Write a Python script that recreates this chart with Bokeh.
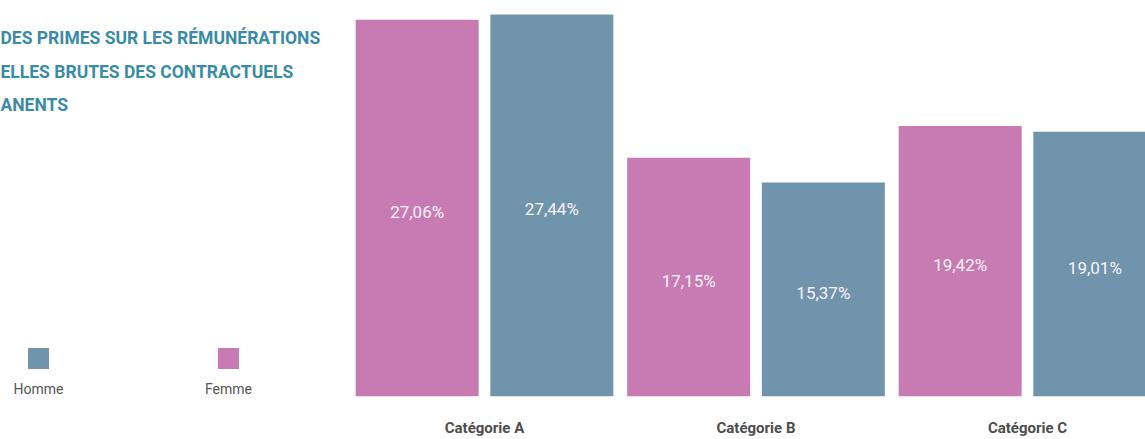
from bokeh.plotting import figure
from bokeh.models import ColumnDataSource, Range1d, FixedTicker, Label
from bokeh.transform import dodge
from bokeh.core.properties import value
from bokeh.embed import file_html
from bokeh.resources import INLINE

# ---- data ----
categories = ["Catégorie A", "Catégorie B", "Catégorie C"]
femme = [27.06, 17.15, 19.42]
homme = [27.44, 15.37, 19.01]
title_lines = ["DES PRIMES SUR LES RÉMUNÉRATIONS",
               "ELLES BRUTES DES CONTRACTUELS",
               "ANENTS"]
series_names = ["Homme", "Femme"]

# ---- styles ----
PINK = "#c77bb2"
BLUE = "#6f94ac"
TITLE_C = "#3a8ba6"
W, H = 1145, 439
BOTTOM = 42
FRAME_H = H - BOTTOM

X0, X1 = -1.7827, 2.4346
Y0, Y1 = 0.0, 28.44

def px2x(px):
    return X0 + px / W * (X1 - X0)

def px2y(py):
    return Y1 - py / FRAME_H * (Y1 - Y0)

def fmt(v):
    return f"{v:.2f}%".replace(".", ",")

idx = list(range(len(categories)))
src = ColumnDataSource(dict(
    x=idx, femme=femme, homme=homme,
    femme_mid=[v / 2 for v in femme], homme_mid=[v / 2 for v in homme],
    femme_lbl=[fmt(v) for v in femme], homme_lbl=[fmt(v) for v in homme],
))

p = figure(width=W, height=H, output_backend="svg", toolbar_location=None,
           x_range=Range1d(X0, X1), y_range=Range1d(Y0, Y1),
           min_border_left=0, min_border_right=0, min_border_top=0,
           min_border_bottom=BOTTOM, y_axis_location=None,
           background_fill_color="white", border_fill_color="white")
p.outline_line_color = None
p.grid.visible = False

BW = 0.453
OFF = 0.248
p.vbar(x=dodge("x", -OFF, range=p.x_range), top="femme", width=BW, source=src,
       fill_color=PINK, line_color=None)
p.vbar(x=dodge("x", OFF, range=p.x_range), top="homme", width=BW, source=src,
       fill_color=BLUE, line_color=None)

for col, lbl, off in (("femme_mid", "femme_lbl", -OFF), ("homme_mid", "homme_lbl", OFF)):
    p.text(x=dodge("x", off, range=p.x_range), y=col, text=lbl, source=src,
           text_align="center", text_baseline="middle", y_offset=4,
           text_color="#fbf2f9", text_font=value("Roboto"), text_font_size="17px")

ax = p.xaxis[0]
ax.ticker = FixedTicker(ticks=idx)
ax.major_label_overrides = {i: c for i, c in zip(idx, categories)}
ax.axis_line_color = None
ax.major_tick_line_color = None
ax.minor_tick_line_color = None
ax.major_tick_in = 0
ax.major_tick_out = 0
ax.minor_tick_in = 0
ax.minor_tick_out = 0
ax.major_label_standoff = 22
ax.major_label_text_font = "Roboto"
ax.major_label_text_font_style = "bold"
ax.major_label_text_font_size = "15px"
ax.major_label_text_color = "#4d4d4d"

# title lines
for line, mid in zip(title_lines, (38, 72, 105)):
    p.add_layout(Label(x=px2x(0), y=px2y(mid), text=line,
                       text_align="left", text_baseline="middle",
                       text_font="Roboto", text_font_style="bold",
                       text_font_size="17.5px", text_color=TITLE_C))

# legend
for name, color, cx in zip(series_names, (BLUE, PINK), (38, 228)):
    p.scatter(x=[px2x(cx)], y=[px2y(359)], marker="square", size=21,
              fill_color=color, line_color=None)
    p.add_layout(Label(x=px2x(cx), y=px2y(389), text=name,
                       text_align="center", text_baseline="middle",
                       text_font="Roboto", text_font_size="14px",
                       text_color="#555555"))

open("out.html", "w").write(file_html(p, INLINE))
